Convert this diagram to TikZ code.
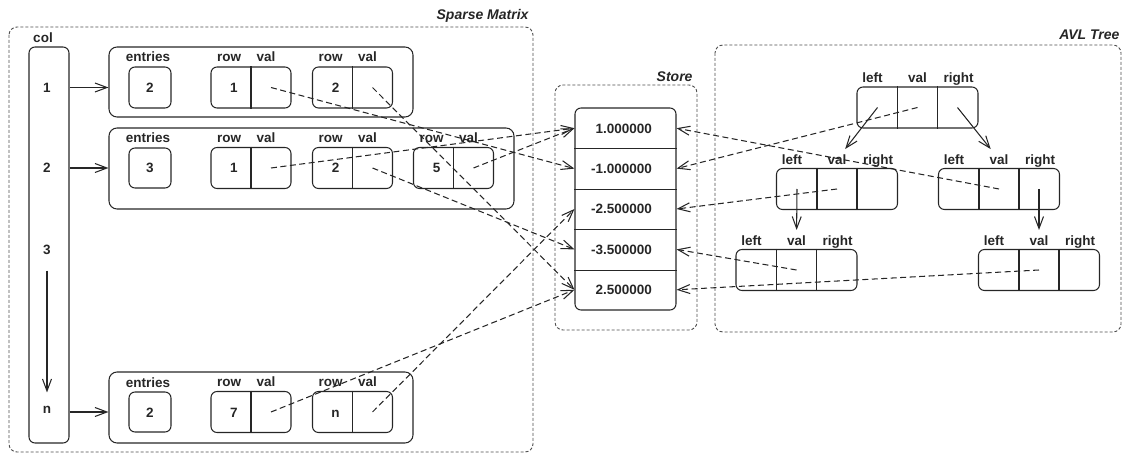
\documentclass[tikz,border=0pt]{standalone}
\usepackage{fontspec}
\setmainfont{Liberation Sans}
\usetikzlibrary{arrows.meta}

\tikzset{
  txt/.style={font=\fontsize{13.5}{15}\selectfont\bfseries, inner sep=1pt, text height=10pt, text depth=0pt},
  title/.style={font=\fontsize{14}{16}\selectfont\bfseries\itshape, anchor=base east, inner sep=0pt},
  cell/.style={draw, rounded corners=6pt, inner sep=0pt},
  frame/.style={draw, rounded corners=8pt, inner sep=0pt},
  group/.style={draw=black!70, line width=0.9pt, dash pattern=on 3pt off 2pt, rounded corners=8pt},
  ptr/.style={->, dash pattern=on 6pt off 3.5pt},
}

% row/val pair: name, x, y, row
\newcommand{\pairbox}[4]{
  \node[cell, minimum width=80pt, minimum height=41pt] (#1) at (#2,#3) {};
  \draw (#1.north) -- (#1.south);
  \node[txt] (#1n) at ([xshift=-17pt]#1.center) {#4};
  \node[txt] (#1hr) at ([xshift=-22pt,yshift=30.5pt]#1.center) {row};
  \node[txt] (#1hv) at ([xshift=15pt,yshift=30.5pt]#1.center) {val};
  \coordinate (#1v) at ([xshift=20pt]#1.center);
}

% tree node: name, x, y
\newcommand{\avlnode}[3]{
  \node[cell, minimum width=121pt, minimum height=41pt] (#1) at (#2,#3) {};
  \draw ([xshift=-20pt]#1.north) -- ([xshift=-20pt]#1.south);
  \draw ([xshift=20pt]#1.north) -- ([xshift=20pt]#1.south);
  \node[txt] (#1hl) at ([xshift=-45pt,yshift=29.5pt]#1.center) {left};
  \node[txt] (#1hv) at ([yshift=29.5pt]#1.center) {val};
  \node[txt] (#1hr) at ([xshift=41pt,yshift=29.5pt]#1.center) {right};
  \coordinate (#1L) at ([xshift=-40pt]#1.center);
  \coordinate (#1R) at ([xshift=40pt]#1.center);
}

% store cell: name, y, value
\newcommand{\storecell}[3]{
  \node[minimum width=101pt, minimum height=40.4pt, inner sep=0pt] (#1) at (625.5,#2) {};
  \node[txt, anchor=east] (#1t) at ([xshift=-23pt]#1.east) {#3};
}

\begin{document}
\begin{tikzpicture}[x=1pt, y=-1pt, line width=1.05pt, color=black!85,
  >={Straight Barb[length=12pt,width=9pt]}]
\useasboundingbox (0,0) rectangle (1127,454);

\draw[group] (9,27) rectangle (533,452);
\node[title] (smt) at (529,20) {Sparse Matrix};
\draw[group] (555,85) rectangle (697,330);
\node[title] (stt) at (693,82) {Store};
\draw[group] (715,45) rectangle (1121,332);
\node[title] (avt) at (1120,40) {AVL Tree};

\node[cell, minimum width=40pt, minimum height=396pt] (col) at (49,245) {};
\node[txt] (colh) at (43,38) {col};
\node[txt] (c1) at (47,88) {1};
\node[txt] (c2) at (47,168) {2};
\node[txt] (c3) at (47,250) {3};
\node[txt] (cn) at (47,408) {n};
\draw[->, shorten <=14pt, shorten >=9pt] (c3) -- (cn);

\node[frame, minimum width=304pt, minimum height=70pt] (row1) at (261,82) {};
\node[frame, minimum width=405pt, minimum height=81pt] (row2) at (311.5,168.5) {};
\node[frame, minimum width=304pt, minimum height=71pt] (rown) at (261,407.5) {};

\node[cell, txt, minimum width=42pt, minimum height=41pt] (e1) at (150,87.5) {2};
\node[txt] (e1h) at (148,57) {entries};
\node[cell, txt, minimum width=42pt, minimum height=40pt] (e2) at (150,168) {3};
\node[txt] (e2h) at (148,138) {entries};
\node[cell, txt, minimum width=42pt, minimum height=40pt] (en) at (150,412) {2};
\node[txt] (enh) at (148,382) {entries};

\draw[->] (e1 -| col.east) -- (e1 -| row1.west);
\draw[->] (e2 -| col.east) -- (e2 -| row2.west);
\draw[->] (en -| col.east) -- (en -| rown.west);

\pairbox{p11}{251}{87.5}{1}
\pairbox{p12}{352.5}{87.5}{2}
\pairbox{p21}{251}{168}{1}
\pairbox{p22}{352.5}{168}{2}
\pairbox{p23}{453.5}{168}{5}
\pairbox{pn1}{251}{412}{7}
\pairbox{pn2}{352.5}{412}{n}

\node[cell, minimum width=101pt, minimum height=202pt] (store) at (625.5,209) {};
\storecell{s1}{128.2}{1.000000}
\storecell{s2}{168.6}{-1.000000}
\storecell{s3}{209}{-2.500000}
\storecell{s4}{249.4}{-3.500000}
\storecell{s5}{289.8}{2.500000}
\draw (s1.south west) -- (s1.south east);
\draw (s2.south west) -- (s2.south east);
\draw (s3.south west) -- (s3.south east);
\draw (s4.south west) -- (s4.south east);

\avlnode{root}{917.5}{107.5}
\avlnode{lc}{837}{189}
\avlnode{rc}{999}{189}
\avlnode{ll}{796.5}{270}
\avlnode{rr}{1039}{270}

\draw[->, shorten >=5pt] (rootL) -- (lchv);
\draw[->, shorten >=5pt] (rootR) -- (rchv);
\draw[->, shorten >=4pt] (lcL) -- (llhv);
\draw[->, shorten >=4pt] (rcR) -- (rrhv);

\draw[ptr] (root.center) -- (s2.east);
\draw[ptr] (rc.center) -- (s1.east);
\draw[ptr] (lc.center) -- (s3.east);
\draw[ptr] (ll.center) -- (s4.east);
\draw[ptr] (rr.center) -- (s5.east);

\draw[ptr] (p11v) -- (s2.west);
\draw[ptr] (p12v) -- (s5.west);
\draw[ptr] (p21v) -- (s1.west);
\draw[ptr] (p22v) -- (s4.west);
\draw[ptr] (p23v) -- (s1.west);
\draw[ptr] (pn1v) -- (s5.west);
\draw[ptr] (pn2v) -- (s3.west);
\end{tikzpicture}
\end{document}
